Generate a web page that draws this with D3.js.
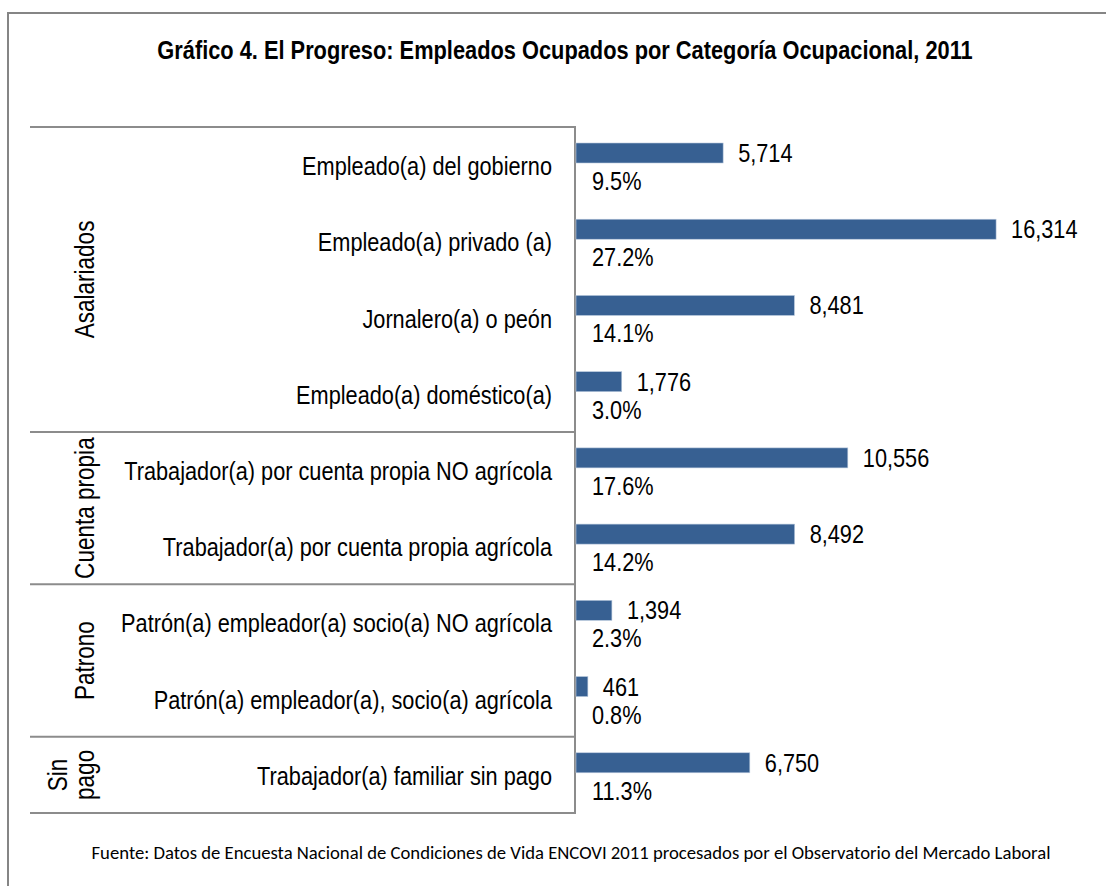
<!DOCTYPE html>
<html>
<head>
<meta charset="utf-8">
<script src="https://cdn.jsdelivr.net/npm/d3@7"></script>
<style>
  html, body { margin: 0; padding: 0; background: #fff; }
  svg { display: block; }
  .narrow { font-family: 'Liberation Sans', Arial, sans-serif; }
</style>
</head>
<body>
<svg id="chart" width="1106" height="886"></svg>
<script>
// ---- Data ----
const categories = [
  "Empleado(a) del gobierno",
  "Empleado(a) privado (a)",
  "Jornalero(a) o peón",
  "Empleado(a) doméstico(a)",
  "Trabajador(a) por cuenta propia NO agrícola",
  "Trabajador(a) por cuenta propia agrícola",
  "Patrón(a) empleador(a) socio(a) NO agrícola",
  "Patrón(a) empleador(a), socio(a) agrícola",
  "Trabajador(a) familiar sin pago"
];
const counts = [5714, 16314, 8481, 1776, 10556, 8492, 1394, 461, 6750];
const percents = [9.5, 27.2, 14.1, 3.0, 17.6, 14.2, 2.3, 0.8, 11.3];
const groupNames = [["Asalariados"], ["Cuenta propia"], ["Patrono"], ["Sin", "pago"]];
const groupFirst = [0, 4, 6, 8];
const groupLast = [3, 5, 7, 8];
const title = "Gráfico 4. El Progreso: Empleados Ocupados por Categoría Ocupacional, 2011";
const source = "Fuente: Datos de Encuesta Nacional de Condiciones de Vida ENCOVI 2011 procesados por el Observatorio del Mercado Laboral";

// ---- Layout ----
const svg = d3.select("#chart");
const W = 1106, H = 886;
const axisX = 575;
const tableTop = 127, tableBottom = 813;
const tableLeft = 30;
const NARROW = 0.82;   // Arial Narrow ≈ Arial compressed horizontally
const FS = 26.5;

svg.append("rect").attr("width", W).attr("height", H).attr("fill", "#fff");

// outer frame
svg.append("path")
  .attr("d", `M8,${H} V13 H${W}`)
  .attr("fill", "none").attr("stroke", "#858585").attr("stroke-width", 2);

// helper: narrow text at position
function narrowText(sel, xPos, yPos, extra) {
  return sel.attr("class", (sel.attr("class") || "") + " narrow")
    .attr("transform", (d, i) => `translate(${xPos(d, i)},${yPos(d, i)})${extra || ""} scale(${NARROW},1)`);
}

// title
narrowText(svg.append("text").datum(title), () => 565, () => 59)
  .attr("text-anchor", "middle")
  .attr("font-size", 26.6).attr("font-weight", "bold")
  .attr("fill", "#000")
  .text(title);

// scales
const y = d3.scaleBand().domain(categories).range([tableTop, tableBottom]).padding(0);
const x = d3.scaleLinear().domain([0, 18000]).range([axisX + 1, axisX + 1 + 18000 * 0.02575]);
const fmt = d3.format(",");

// group separators
const sepYs = [tableTop].concat(groupLast.map(l => y(categories[l]) + y.bandwidth()));
svg.selectAll("line.sep").data(sepYs).enter().append("line")
  .attr("class", "sep")
  .attr("x1", tableLeft).attr("x2", axisX)
  .attr("y1", d => d).attr("y2", d => d)
  .attr("stroke", "#8c8c8c").attr("stroke-width", 2);

// vertical axis line
svg.append("line")
  .attr("x1", axisX).attr("x2", axisX)
  .attr("y1", tableTop - 1).attr("y2", tableBottom + 1)
  .attr("stroke", "#8c8c8c").attr("stroke-width", 2);

// bars
const barOffset = 16, barH = 20;
svg.selectAll("rect.bar").data(categories).enter().append("rect")
  .attr("class", "bar")
  .attr("x", x(0))
  .attr("y", d => y(d) + barOffset)
  .attr("width", (d, i) => x(counts[i]) - x(0))
  .attr("height", barH)
  .attr("fill", "#376092")
  .attr("stroke", "#b8c8dc").attr("stroke-width", 0.6);

// category labels
narrowText(svg.selectAll("text.cat").data(categories).enter().append("text").attr("class", "cat"),
    () => 552, d => y(d) + y.bandwidth() / 2 + 10)
  .attr("text-anchor", "end")
  .attr("font-size", FS)
  .attr("fill", "#000")
  .text(d => d);

// value labels
narrowText(svg.selectAll("text.val").data(categories).enter().append("text").attr("class", "val"),
    (d, i) => x(counts[i]) + 15, d => y(d) + barOffset + barH / 2 + 9)
  .attr("font-size", FS)
  .attr("fill", "#000")
  .text((d, i) => fmt(counts[i]));

// percent labels
narrowText(svg.selectAll("text.pct").data(categories).enter().append("text").attr("class", "pct"),
    () => 592, d => y(d) + 63)
  .attr("font-size", FS)
  .attr("fill", "#000")
  .text((d, i) => percents[i].toFixed(1) + "%");

// group labels (rotated)
groupNames.forEach((lines, gi) => {
  const cy = (y(categories[groupFirst[gi]]) + y(categories[groupLast[gi]]) + y.bandwidth()) / 2;
  const n = lines.length;
  lines.forEach((line, k) => {
    const bx = 93.5 - (n - 1 - k) * 27;
    narrowText(svg.append("text").datum(line), () => bx, () => cy, " rotate(-90)")
      .attr("text-anchor", "middle")
      .attr("font-size", 27.5)
      .attr("fill", "#000")
      .text(line);
  });
});

// source
svg.append("text")
  .attr("x", 571).attr("y", 859)
  .attr("text-anchor", "middle")
  .attr("font-family", "Carlito, Calibri, Lato, sans-serif")
  .attr("font-size", 18.7)
  .attr("fill", "#000")
  .text(source);
</script>
</body>
</html>
